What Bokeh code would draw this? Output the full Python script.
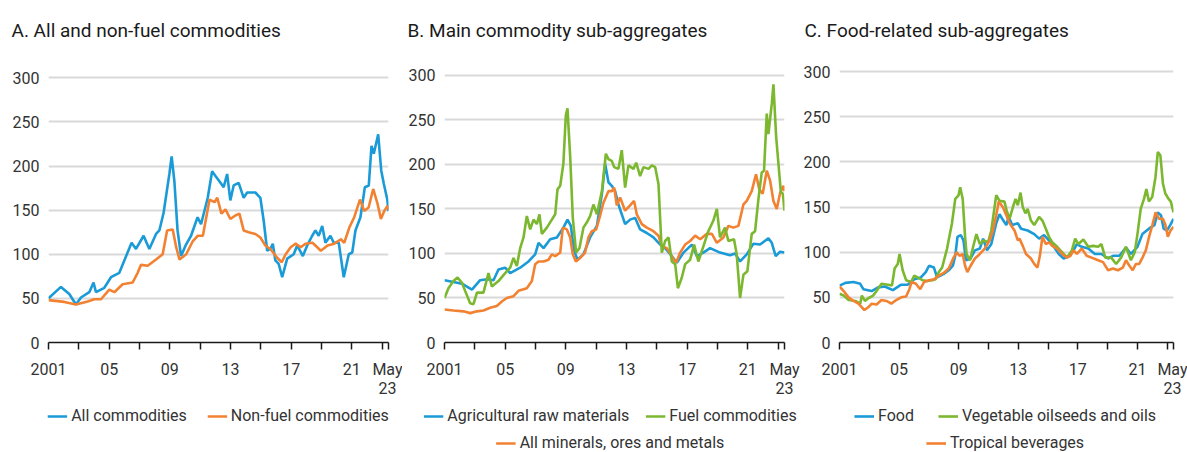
from bokeh.plotting import figure
from bokeh.models import Range1d, FixedTicker, Legend, LegendItem, Title
from bokeh.layouts import row, column
from bokeh.embed import file_html
from bokeh.resources import INLINE

# ---------------- data (index values) ----------------
# Panel A
all_x = [2001.0, 2001.82, 2002.37, 2002.81, 2003.14, 2003.69, 2003.97, 2004.13, 2004.68, 2005.12,
         2005.67, 2006.0, 2006.48, 2006.77, 2007.27, 2007.65, 2008.09, 2008.31, 2008.59, 2008.97,
         2009.12, 2009.3, 2009.51, 2009.74, 2010.07, 2010.4, 2010.83, 2011.06, 2011.5, 2011.79,
         2012.0, 2012.34, 2012.55, 2012.78, 2012.99, 2013.21, 2013.54, 2013.87, 2014.1, 2014.43,
         2014.64, 2014.97, 2015.19, 2015.42, 2015.63, 2015.79, 2015.96, 2016.18, 2016.41, 2016.74,
         2017.17, 2017.4, 2017.77, 2018.06, 2018.39, 2018.6, 2018.82, 2019.05, 2019.26, 2019.59,
         2019.81, 2020.14, 2020.47, 2020.8, 2021.03, 2021.24, 2021.57, 2021.86, 2022.12, 2022.3,
         2022.45, 2022.74, 2022.94, 2023.11, 2023.34, 2023.42]
all_y = [50, 63, 55, 43, 51, 57, 68, 57, 62, 74,
         79, 93, 113, 106, 121, 106, 123, 127, 147, 191,
         211, 183, 127, 98, 111, 121, 142, 134, 164, 194,
         189, 181, 176, 191, 161, 178, 181, 164, 170, 170,
         170, 164, 138, 104, 106, 112, 93, 89, 74, 95,
         100, 110, 98, 110, 121, 127, 121, 132, 113, 121,
         113, 113, 74, 100, 102, 127, 142, 176, 178, 223,
         214, 236, 195, 180, 162, 149]

nonfuel_x = [2001.0, 2002.04, 2002.81, 2003.58, 2004.02, 2004.46, 2005.01, 2005.34, 2005.89, 2006.55,
             2006.88, 2007.1, 2007.54, 2008.09, 2008.53, 2008.82, 2009.19, 2009.42, 2009.64, 2010.08,
             2010.52, 2010.85, 2011.18, 2011.62, 2011.95, 2012.13, 2012.4, 2012.67, 2012.99, 2013.32,
             2013.59, 2013.87, 2014.2, 2014.64, 2014.97, 2015.3, 2015.63, 2016.08, 2016.38, 2016.64,
             2016.97, 2017.3, 2017.63, 2017.96, 2018.41, 2018.96, 2019.4, 2019.84, 2020.28, 2020.5,
             2020.83, 2021.16, 2021.54, 2021.82, 2022.11, 2022.41, 2022.7, 2022.92, 2023.14, 2023.36,
             2023.42]
nonfuel_y = [48, 46, 43, 46.5, 49, 49, 60, 57, 66, 68,
             79, 88, 87, 94, 100, 127, 128, 108, 94, 100,
             115, 121, 121, 162, 159, 164, 146, 151, 140, 144,
             146, 127, 125, 123, 119, 110, 106, 96, 91, 100,
             108, 112, 108, 112, 113, 104, 110, 112, 117, 113,
             130, 142, 162, 149, 153, 174, 157, 140, 149, 155,
             151]

# Panel B
agri_x = [2001.0, 2001.59, 2002.15, 2002.81, 2003.35, 2003.8, 2004.23, 2004.56, 2005.0, 2005.33,
          2005.99, 2006.54, 2006.98, 2007.2, 2007.53, 2007.97, 2008.41, 2008.84, 2009.11, 2009.33,
          2009.55, 2009.77, 2010.16, 2010.6, 2011.05, 2011.38, 2011.59, 2011.81, 2012.03, 2012.25,
          2012.47, 2012.91, 2013.24, 2013.57, 2013.9, 2014.34, 2014.78, 2015.22, 2015.55, 2015.99,
          2016.32, 2016.76, 2017.31, 2017.64, 2018.07, 2018.51, 2019.17, 2019.83, 2020.16, 2020.49,
          2020.93, 2021.37, 2021.81, 2022.36, 2022.58, 2022.84, 2023.13, 2023.42]
agri_y = [70, 68, 66, 59.5, 70, 71, 70, 82, 84, 78,
          84, 91, 99, 112, 106, 116, 118, 129, 138, 131,
          103, 93, 99, 118, 131, 167, 201, 180, 176, 170,
          155, 133, 138, 140, 127, 123, 118, 110, 106, 97,
          89.5, 101, 110, 97, 101, 106, 101, 98, 100, 91,
          99, 111, 110, 117, 112, 97, 102, 101]

fuel_x = [2001.0, 2001.26, 2001.59, 2001.86, 2002.15, 2002.36, 2002.69, 2002.91, 2003.14, 2003.57,
          2003.9, 2004.12, 2004.56, 2005.0, 2005.33, 2005.55, 2005.77, 2005.99, 2006.21, 2006.43,
          2006.65, 2006.87, 2007.09, 2007.26, 2007.42, 2007.75, 2008.08, 2008.3, 2008.45, 2008.63,
          2008.84, 2009.0, 2009.11, 2009.29, 2009.46, 2009.68, 2009.9, 2010.16, 2010.39, 2010.6,
          2010.82, 2011.05, 2011.38, 2011.64, 2011.81, 2012.03, 2012.19, 2012.47, 2012.69, 2012.91,
          2013.13, 2013.46, 2013.64, 2013.9, 2014.12, 2014.45, 2014.67, 2014.89, 2015.11, 2015.33,
          2015.55, 2015.77, 2015.99, 2016.21, 2016.39, 2016.65, 2016.87, 2017.2, 2017.46, 2017.74,
          2018.07, 2018.4, 2018.73, 2018.96, 2019.17, 2019.5, 2019.72, 2020.09, 2020.27, 2020.49,
          2020.71, 2020.97, 2021.26, 2021.48, 2021.7, 2021.92, 2022.07, 2022.25, 2022.36, 2022.58,
          2022.69, 2022.87, 2023.02, 2023.18, 2023.31, 2023.42]
fuel_y = [50, 61, 69, 73, 67, 58, 44, 43, 56, 56,
          78, 63, 69, 78, 84, 95, 86, 106, 118, 142,
          127, 138, 133, 144, 122, 129, 138, 144, 172, 176,
          201, 255, 263, 208, 140, 101, 106, 129, 135, 142,
          155, 144, 170, 212, 206, 204, 197, 195, 216, 174,
          199, 195, 202, 187, 197, 195, 199, 197, 178, 101,
          114, 118, 91, 88, 61, 73, 88, 93, 110, 91,
          108, 125, 137, 150, 118, 129, 114, 116, 99, 50,
          76, 80, 122, 125, 161, 191, 193, 257, 234, 268,
          290, 231, 201, 169, 167, 148]

metals_x = [2001.0, 2001.59, 2002.25, 2002.69, 2003.14, 2003.57, 2004.01, 2004.45, 2004.78, 2005.11,
            2005.55, 2005.88, 2006.43, 2006.76, 2006.98, 2007.2, 2007.53, 2007.86, 2008.08, 2008.3,
            2008.63, 2008.8, 2009.07, 2009.29, 2009.46, 2009.66, 2009.95, 2010.27, 2010.49, 2010.72,
            2011.0, 2011.22, 2011.48, 2011.81, 2012.03, 2012.19, 2012.36, 2012.58, 2012.91, 2013.24,
            2013.5, 2013.68, 2014.01, 2014.34, 2014.78, 2015.11, 2015.33, 2015.66, 2015.99, 2016.27,
            2016.54, 2016.87, 2017.2, 2017.53, 2017.86, 2018.3, 2018.63, 2018.96, 2019.39, 2019.72,
            2020.05, 2020.38, 2020.71, 2020.93, 2021.26, 2021.54, 2021.76, 2021.98, 2022.25, 2022.47,
            2022.69, 2022.91, 2023.13, 2023.35, 2023.42]
metals_y = [37, 36, 35, 33, 35, 36, 39, 41, 46, 50,
            52, 58, 61, 69, 88, 91, 91, 93, 99, 97,
            101, 129, 127, 118, 99, 91, 95, 101, 118, 125,
            127, 140, 157, 170, 170, 174, 154, 163, 148, 154,
            159, 144, 133, 129, 125, 120, 108, 106, 97, 89.5,
            101, 110, 114, 120, 116, 122, 122, 112, 118, 131,
            129, 131, 155, 159, 170, 189, 172, 167, 193, 182,
            159, 150, 168, 176, 170]

# Panel C
food_x = [2001.0, 2001.4, 2001.94, 2002.39, 2002.6, 2003.16, 2003.59, 2004.04, 2004.58, 2005.14,
          2005.57, 2006.02, 2006.46, 2006.79, 2007.01, 2007.34, 2007.55, 2008.0, 2008.33, 2008.61,
          2008.77, 2008.92, 2009.14, 2009.32, 2009.49, 2009.8, 2010.09, 2010.42, 2010.64, 2010.9,
          2011.19, 2011.52, 2011.74, 2012.0, 2012.2, 2012.35, 2012.6, 2012.97, 2013.19, 2013.63,
          2014.07, 2014.4, 2014.73, 2015.06, 2015.39, 2015.72, 2016.05, 2016.38, 2016.71, 2016.93,
          2017.26, 2017.7, 2018.14, 2018.58, 2019.03, 2019.36, 2019.79, 2020.23, 2020.56, 2021.0,
          2021.33, 2021.77, 2022.14, 2022.36, 2022.58, 2022.76, 2022.98, 2023.2, 2023.42]
food_y = [63, 66, 67, 65, 59, 57, 61, 62, 58, 64,
          64, 70, 72, 78, 85, 83, 72, 76, 80, 85,
          96, 117, 119, 113, 91, 93, 102, 104, 115, 102,
          109, 132, 142, 135, 130, 139, 130, 132, 126, 124,
          120, 115, 119, 113, 106, 98, 93, 96, 102, 109,
          106, 104, 98, 98, 93, 96, 96, 105, 98, 106,
          120, 126, 130, 144, 141, 126, 124, 130, 137]

vegoil_x = [2001.0, 2001.28, 2001.61, 2002.06, 2002.39, 2002.5, 2002.71, 2002.93, 2003.26, 2003.49,
            2003.82, 2004.26, 2004.52, 2004.7, 2004.91, 2005.03, 2005.24, 2005.47, 2005.8, 2006.02,
            2006.24, 2006.57, 2006.9, 2007.23, 2007.45, 2007.67, 2007.89, 2008.22, 2008.55, 2008.77,
            2008.99, 2009.1, 2009.27, 2009.43, 2009.53, 2009.76, 2009.97, 2010.19, 2010.42, 2010.68,
            2010.97, 2011.19, 2011.52, 2011.74, 2012.07, 2012.22, 2012.42, 2012.64, 2012.82, 2012.97,
            2013.15, 2013.3, 2013.48, 2013.63, 2013.85, 2014.07, 2014.4, 2014.62, 2014.85, 2015.06,
            2015.28, 2015.61, 2015.94, 2016.27, 2016.6, 2016.82, 2017.04, 2017.37, 2017.7, 2018.03,
            2018.36, 2018.58, 2018.84, 2019.24, 2019.57, 2019.9, 2020.23, 2020.56, 2020.82, 2021.0,
            2021.22, 2021.44, 2021.6, 2021.77, 2021.99, 2022.21, 2022.37, 2022.54, 2022.71, 2022.87,
            2023.09, 2023.24, 2023.42]
vegoil_y = [54, 52, 47, 46, 43, 52, 46, 49, 52, 57,
            65, 64, 63, 82, 87, 98, 80, 69, 67, 74,
            72, 69, 68, 69, 70, 78, 83, 104, 132, 159,
            163, 172, 159, 117, 98, 91, 106, 120, 109, 113,
            111, 124, 163, 157, 156, 146, 137, 150, 159, 152,
            166, 150, 143, 148, 135, 130, 139, 135, 126, 117,
            111, 106, 100, 94, 102, 115, 109, 114, 106, 107,
            106, 109, 94, 94, 87, 94, 106, 91, 100, 120,
            148, 159, 170, 156, 161, 183, 211, 207, 176, 165,
            159, 156, 144]

bev_x = [2001.0, 2001.28, 2001.61, 2001.94, 2002.27, 2002.67, 2002.93, 2003.16, 2003.49, 2003.82,
         2004.15, 2004.48, 2004.81, 2005.14, 2005.47, 2005.69, 2005.84, 2006.13, 2006.42, 2006.68,
         2007.01, 2007.34, 2007.67, 2008.0, 2008.33, 2008.66, 2008.87, 2009.05, 2009.27, 2009.43,
         2009.58, 2009.8, 2010.09, 2010.42, 2010.75, 2011.08, 2011.3, 2011.52, 2011.69, 2011.96,
         2012.2, 2012.42, 2012.75, 2012.97, 2013.08, 2013.3, 2013.52, 2013.85, 2014.07, 2014.29,
         2014.45, 2014.62, 2014.85, 2015.06, 2015.28, 2015.61, 2015.94, 2016.27, 2016.5, 2016.71,
         2016.93, 2017.26, 2017.59, 2017.92, 2018.36, 2018.69, 2019.03, 2019.36, 2019.69, 2020.02,
         2020.23, 2020.46, 2020.68, 2020.9, 2021.12, 2021.34, 2021.56, 2021.78, 2022.0, 2022.22,
         2022.45, 2022.71, 2022.88, 2023.04, 2023.22, 2023.42]
bev_y = [62, 57, 50, 46, 43, 36, 39, 43, 42, 47,
         46, 43, 47, 50, 51, 59, 67, 65, 59, 67,
         69, 70, 74, 77, 82, 94, 100, 96, 98, 85,
         78, 85, 93, 98, 104, 113, 124, 141, 156, 150,
         141, 132, 124, 113, 115, 107, 98, 93, 87, 83,
         96, 117, 109, 111, 107, 104, 98, 94, 96, 102,
         98, 104, 96, 94, 91, 89, 80, 82, 80, 83,
         91, 85, 80, 87, 87, 94, 102, 117, 130, 144,
         137, 137, 130, 117, 124, 128]

# tick labels
x_ticks = [2001, 2003, 2005, 2007, 2009, 2011, 2013, 2015, 2017, 2019, 2021, 2023, 2023.42]
x_labels = ["2001", "", "05", "", "09", "", "13", "", "17", "", "21", "", "May\n23"]
y_ticks = [0, 50, 100, 150, 200, 250, 300]

# ---------------- style ----------------
FONT = "Roboto"
BLUE = "#1a9bd7"
ORANGE = "#f28232"
GREEN = "#7cb82f"
TXT = "#333333"
MAIN_H = 404
LEG_H = 48


def make_panel(title, series, legend_rows, width, left, frame_w, ytop, leg_left, leg_right,
               title_x, spacing):
    right = width - left - frame_w
    p = figure(width=width, height=MAIN_H, title=None,
               min_border_left=left, min_border_right=right,
               min_border_top=66, min_border_bottom=62,
               x_range=Range1d(2001.0, 2023.42), y_range=Range1d(0, ytop),
               toolbar_location=None, output_backend="svg",
               background_fill_color="white", border_fill_color="white")
    p.outline_line_color = None
    # spacer between frame and title, then the title itself (further from the frame)
    p.add_layout(Title(text=" ", text_font=FONT, text_font_size="19px", standoff=0), "above")
    p.add_layout(Title(text=title, text_font=FONT, text_font_size="19px", text_font_style="normal",
                       text_color="#1a1a1a", align="left", offset=title_x - left, standoff=0),
                 "above")

    p.xgrid.grid_line_color = None
    p.ygrid.grid_line_color = "#d9d9d9"
    p.ygrid.grid_line_width = 2

    ya = p.yaxis[0]
    ya.ticker = FixedTicker(ticks=y_ticks)
    ya.axis_line_color = None
    ya.major_tick_line_color = None
    ya.minor_tick_line_color = None
    ya.major_tick_out = 0
    ya.major_tick_in = 0
    ya.major_label_standoff = 9
    ya.major_label_text_font = FONT
    ya.major_label_text_font_size = "16px"
    ya.major_label_text_color = TXT

    xa = p.xaxis[0]
    xa.ticker = FixedTicker(ticks=x_ticks)
    xa.major_label_overrides = {t: l for t, l in zip(x_ticks, x_labels)}
    xa.axis_line_color = "#1a1a1a"
    xa.axis_line_width = 1.5
    xa.major_tick_line_color = "#1a1a1a"
    xa.major_tick_line_width = 1.5
    xa.major_tick_out = 7
    xa.major_tick_in = 0
    xa.minor_tick_line_color = None
    xa.major_label_standoff = 10
    xa.major_label_text_font = FONT
    xa.major_label_text_font_size = "16px"
    xa.major_label_text_color = TXT
    xa.major_label_text_line_height = 1.0

    for name, xs, ys, color in series:
        p.line(xs, ys, line_color=color, line_width=2.6)

    # legend strip below the chart; its own frame (not aligned to the chart frame)
    lf = figure(width=width, height=LEG_H, min_border_left=leg_left, min_border_right=leg_right,
                min_border_top=0, min_border_bottom=0,
                x_range=Range1d(0, 1), y_range=Range1d(0, 1),
                toolbar_location=None, output_backend="svg",
                background_fill_color="white", border_fill_color="white")
    lf.frame_align = False
    lf.outline_line_color = None
    lf.axis.visible = False
    lf.grid.visible = False
    samples = {}
    for name, xs, ys, color in series:
        # same series, outside this strip's visible range: only the legend sample shows
        samples[name] = lf.line(xs, ys, line_color=color, line_width=2.6)
    locs = ["top_center", "bottom_center"]
    margins = [2, 0]
    pads = [2, 2]
    for i, names in enumerate(legend_rows):
        items = [LegendItem(label=n, renderers=[samples[n]]) for n in names]
        lg = Legend(items=items, orientation="horizontal", location=locs[i],
                    label_text_font=FONT, label_text_font_size="16px", label_text_color=TXT,
                    glyph_width=20, glyph_height=18, label_height=18, label_standoff=4,
                    spacing=spacing, padding=pads[i], margin=margins[i],
                    border_line_color=None, background_fill_alpha=0)
        lf.add_layout(lg, "center")
    return column(p, lf, spacing=0)


pa = make_panel("A. All and non-fuel commodities",
                [("All commodities", all_x, all_y, BLUE),
                 ("Non-fuel commodities", nonfuel_x, nonfuel_y, ORANGE)],
                [["All commodities", "Non-fuel commodities"]],
                402, 48, 340, 312.8, 34, 0, 11, 20)
pb = make_panel("B. Main commodity sub-aggregates",
                [("Agricultural raw materials", agri_x, agri_y, BLUE),
                 ("All minerals, ores and metals", metals_x, metals_y, ORANGE),
                 ("Fuel commodities", fuel_x, fuel_y, GREEN)],
                [["Agricultural raw materials", "Fuel commodities"], ["All minerals, ores and metals"]],
                398, 42, 340, 310.0, 18, 0, 5, 16)
pc = make_panel("C. Food-related sub-aggregates",
                [("Food", food_x, food_y, BLUE),
                 ("Vegetable oilseeds and oils", vegoil_x, vegoil_y, GREEN),
                 ("Tropical beverages", bev_x, bev_y, ORANGE)],
                [["Food", "Vegetable oilseeds and oils"], ["Tropical beverages"]],
                387, 37, 336, 305.6, 23, 0, 2, 24)

layout = row(pa, pb, pc, spacing=0)
open("out.html", "w").write(file_html(layout, INLINE))
